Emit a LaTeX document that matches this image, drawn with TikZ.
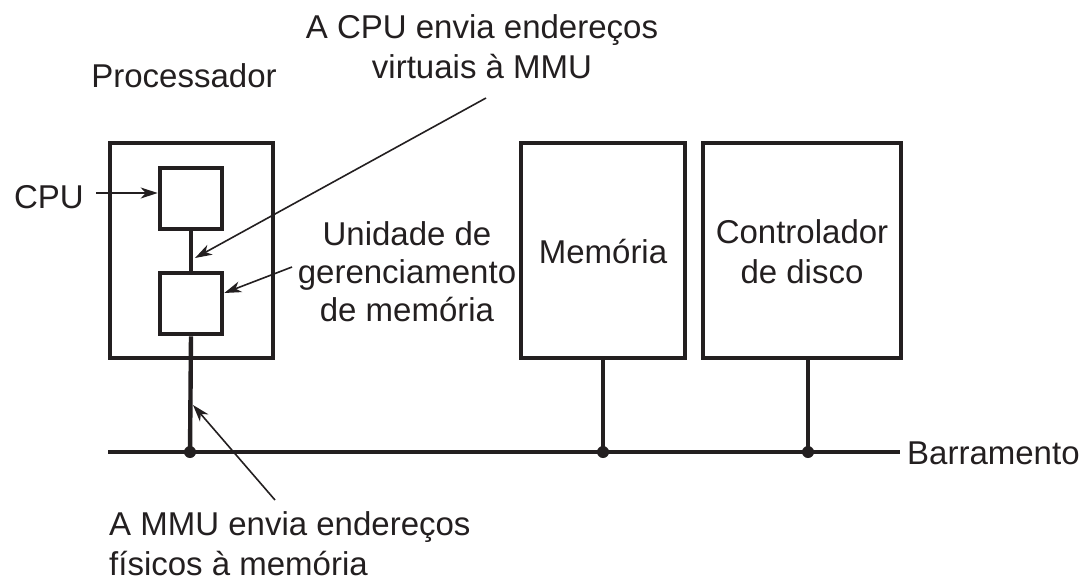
\documentclass[tikz,border=0pt]{standalone}
\usepackage{fontspec}
\setmainfont{Liberation Sans}
\usetikzlibrary{arrows.meta}
\definecolor{ink}{HTML}{231F20}
\begin{document}
\begin{tikzpicture}[x=1pt,y=-1pt,
  box/.style={draw=ink, line width=4.6pt, inner sep=0pt, minimum width=#1},
  txt/.style={text=ink, inner sep=0pt, font=\fontsize{33}{40}\selectfont, align=center},
  wire/.style={draw=ink, line width=4.4pt},
  ptr/.style={draw=ink, line width=1.6pt, -{Stealth[length=17pt,width=11pt,inset=5pt]}},
  dot/.style={circle, fill=ink, inner sep=0pt, minimum size=12pt}]
\useasboundingbox (0,0) rectangle (1081,582);
% boxes
\node[box=163pt, minimum height=215pt] (proc) at (191.5,250.5) {};
\node[box=62pt, minimum height=61pt] (cpu) at (191,198.5) {};
\node[box=62pt, minimum height=61pt] (mmu) at (191,303.5) {};
\node[box=164pt, minimum height=215pt] (mem) at (603,250.5) {};
\node[box=198pt, minimum height=215pt] (ctl) at (802,250.5) {};
% labels
\node[txt] (lproc) at (184,76) {Processador};
\node[txt] (lcpu) at (49,197) {CPU};
\node[txt] (ltop) at (482,47) {A CPU envia endereços\\virtuais à MMU};
\node[txt, font=\fontsize{33}{38}\selectfont] (lmmu) at (407,272) {Unidade de\\gerenciamento\\de memória};
\node[txt] (lmem) at (603,252) {Memória};
\node[txt] (lctl) at (802,252) {Controlador\\de disco};
\node[txt, anchor=west] (lbus) at (907,453) {Barramento};
\node[txt, anchor=west, align=left] (lbot) at (109,544) {A MMU envia endereços\\físicos à memória};
% bus
\coordinate (busL) at (108,452);
\coordinate (busR) at (900,452);
\node[dot] (d1) at (190,452) {};
\node[dot] (d2) at (603,452) {};
\node[dot] (d3) at (808,452) {};
\draw[wire] (busL) -- (busR);
\draw[wire] (cpu.south) -- (mmu.north);
\draw[wire] (mmu.south) -- (d1.center);
\draw[wire] (d2.center |- mem.south) -- (d2.center);
\draw[wire] (d3.center |- ctl.south) -- (d3.center);
% pointers
\coordinate (a1s) at (486,98);
\coordinate (a1t) at (195,258);
\coordinate (a2s) at (292,267);
\coordinate (a3s) at (275,500);
\coordinate (a3t) at (193,405);
\draw[ptr] (lcpu.east) ++(12,-4) -- (cpu.west |- 0,193);
\draw[ptr] (a1s) -- (a1t);
\draw[ptr] (a2s) -- (mmu.east |- 0,293);
\draw[ptr] (a3s) -- (a3t);
\end{tikzpicture}
\end{document}
